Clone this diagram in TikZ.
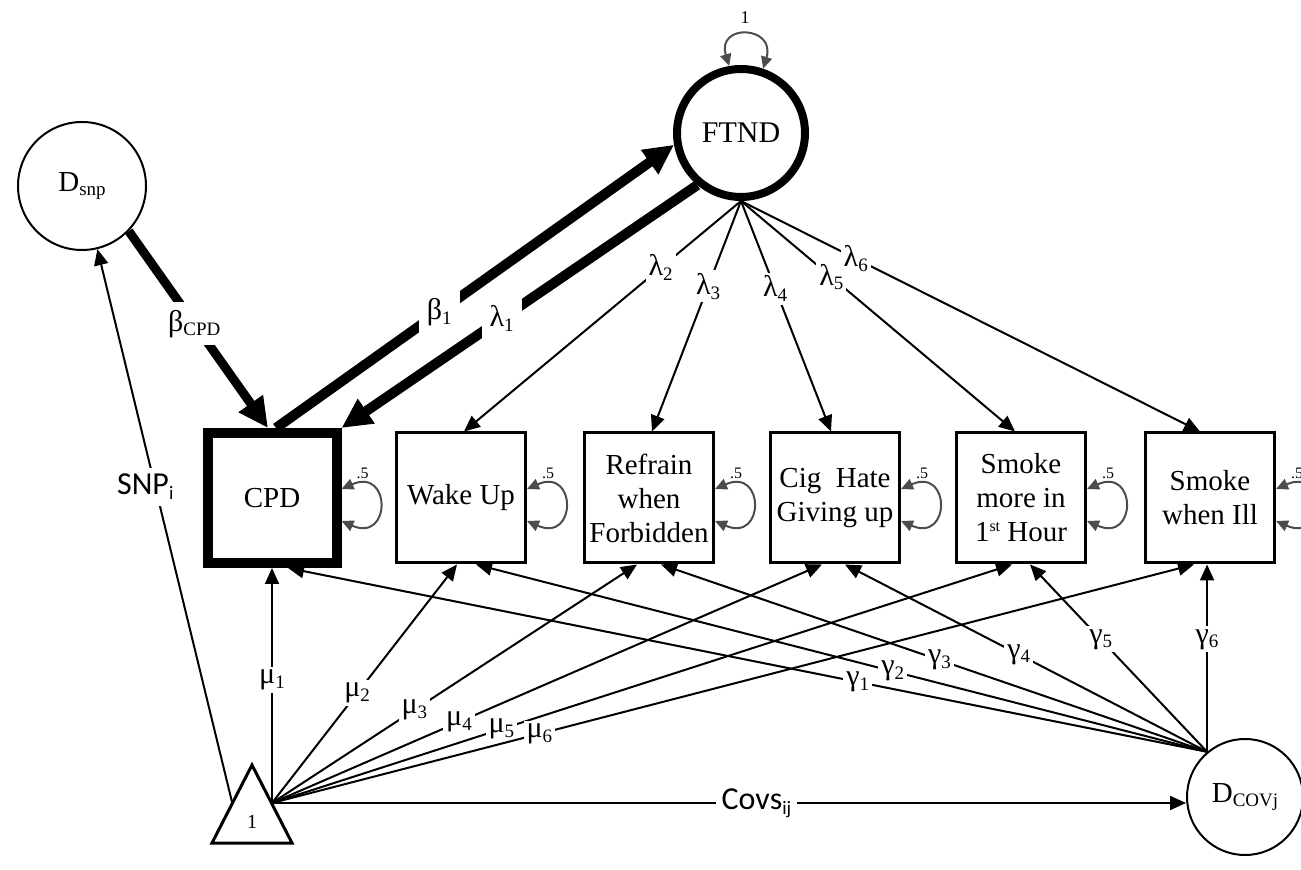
\documentclass[tikz,border=0pt]{standalone}
\usepackage{fontspec}
\setmainfont{Liberation Serif}
\newfontfamily\calibri{Carlito}
\usetikzlibrary{arrows.meta,calc}
\newcommand\lsub[1]{\raisebox{-0.35ex}{\fontsize{9.5}{9.5}\selectfont #1}}
\newcommand\lsup[1]{\raisebox{0.8ex}{\fontsize{8}{8}\selectfont #1}}
\begin{document}
\begin{tikzpicture}[x=0.5pt,y=-0.5pt,
  every node/.style={font=\fontsize{14.5}{17}\selectfont, inner sep=0pt},
  obs/.style={draw, line width=1.5pt, minimum width=64.5pt, minimum height=65pt, align=center},
  thinarr/.style={line width=1pt, -{Triangle[length=8pt,width=7pt]}},
  thickarr/.style={line width=4.5pt, -{Triangle[length=15pt,width=14pt]}},
  lbl/.style={fill=white, inner sep=1.5pt, font=\fontsize{15}{15}\selectfont},
  biglbl/.style={fill=white, inner sep=4pt, font=\fontsize{15}{15}\selectfont},
  sanslbl/.style={fill=white, inner sep=3pt, font=\calibri\fontsize{16}{16}\selectfont},
  varloop/.style={line width=1pt, black!70, {Triangle[length=6pt,width=5.5pt]}-{Triangle[length=6pt,width=5.5pt]}},
  vlbl/.style={font=\fontsize{8}{8}\selectfont}
]
\useasboundingbox (0,0) rectangle (1301,870);
\clip (0,0) rectangle (1301,870);

% observed boxes
\node[obs, line width=5pt] (C) at (272,498) {CPD};
\node[obs] (W) at (461,498) {Wake Up};
\node[obs] (R) at (649,498) {Refrain\\when\\Forbidden};
\node[obs] (H) at (835,498) {Cig\ \ Hate\\Giving up};
\node[obs] (M) at (1021,498) {Smoke\\more in\\1\lsup{st} Hour};
\node[obs] (I) at (1210,498) {Smoke\\when Ill};

% latent circles
\node[circle, draw, line width=4pt, minimum size=64pt, font=\fontsize{15}{15}\selectfont] (F) at (741,133) {FTND};
\node[circle, draw, line width=1pt, minimum size=64pt] (Ds) at (82,186) {D\lsub{snp}};
\node[circle, draw, line width=1pt, minimum size=58pt] (Dc) at (1245,797) {D\lsub{COVj}};

% triangle constant
\draw[line width=1.5pt] (252,765) -- (292,843) -- (212,843) -- cycle;
\node[font=\fontsize{10}{10}\selectfont] (one) at (252,822) {1};
\coordinate (S) at (272,803);
\coordinate (Sl) at (232,802);
\coordinate (G) at (Dc.130);

% self loops
\foreach \b in {C,W,R,H,M,I} {
  \draw[varloop] ($(\b.east)+(0,-9)$) .. controls +(50,-22) and +(50,22) .. ($(\b.east)+(0,23)$);
  \node[vlbl] (l\b) at ($(\b.east)+(21,-25)$) {.5};
}
\draw[varloop] (F.100) .. controls +(-13,-43) and +(13,-43) .. (F.71);
\node[font=\fontsize{9}{9}\selectfont] (one1) at (745,18) {1};

% thick paths
\draw[thickarr] (Ds.316) -- node[biglbl,pos=0.47]{β\lsub{CPD}} ($(C.north)+(-4,0)$);
\draw[thickarr, line width=5pt] ($(C.north)+(4,0)$) -- node[biglbl,pos=0.41]{β\lsub{1}} (F.190);
\draw[thickarr, line width=5pt] (F.230) -- node[biglbl,pos=0.55]{λ\lsub{1}} (C.north east);

% loadings
\draw[thinarr] (F.south) -- node[lbl,pos=0.29]{λ\lsub{2}} ($(W.north)+(3,0)$);
\draw[thinarr] (F.south) -- node[lbl,pos=0.37]{λ\lsub{3}} ($(R.north)+(3,0)$);
\draw[thinarr] (F.south) -- node[lbl,pos=0.38]{λ\lsub{4}} ($(H.north)+(-4,0)$);
\draw[thinarr] (F.south) -- node[lbl,pos=0.33]{λ\lsub{5}} ($(M.north)+(-6,0)$);
\draw[thinarr] (F.south) -- node[lbl,pos=0.25]{λ\lsub{6}} ($(I.north)+(-10,0)$);

% means
\draw[thinarr] (S) -- node[lbl,pos=0.525]{μ\lsub{1}} (C.south);
\draw[thinarr] (S) -- node[lbl,pos=0.46]{μ\lsub{2}} ($(W.south)+(-4,0)$);
\draw[thinarr] (S) -- node[lbl,pos=0.39]{μ\lsub{3}} ($(R.south)+(-12,0)$);
\draw[thinarr] (S) -- node[lbl,pos=0.34]{μ\lsub{4}} ($(H.south)+(-13,0)$);
\draw[thinarr] (S) -- node[lbl,pos=0.31]{μ\lsub{5}} ($(M.south)+(-9,0)$);
\draw[thinarr] (S) -- node[lbl,pos=0.29]{μ\lsub{6}} ($(I.south)+(-16,0)$);

% covariate effects
\draw[thinarr] (G) -- node[lbl,pos=0.38]{γ\lsub{1}} ($(C.south)+(16,0)$);
\draw[thinarr] (G) -- node[lbl,pos=0.43]{γ\lsub{2}} ($(W.south)+(15,0)$);
\draw[thinarr] (G) -- node[lbl,pos=0.49]{γ\lsub{3}} ($(R.south)+(12,0)$);
\draw[thinarr] (G) -- node[lbl,pos=0.52]{γ\lsub{4}} ($(H.south)+(10,0)$);
\draw[thinarr] (G) -- node[lbl,pos=0.60]{γ\lsub{5}} ($(M.south)+(9,0)$);
\draw[thinarr] (G) -- node[lbl,pos=0.60]{γ\lsub{6}} (G |- I.south);

% SNP and covariates
\draw[thinarr] (Sl) -- node[sanslbl,pos=0.57,xshift=-5pt]{SNP\lsub{i}} (Ds);
\draw[thinarr] (S) -- node[sanslbl,pos=0.53]{Covs\lsub{ij}} (S -| Dc.west);
\end{tikzpicture}
\end{document}
